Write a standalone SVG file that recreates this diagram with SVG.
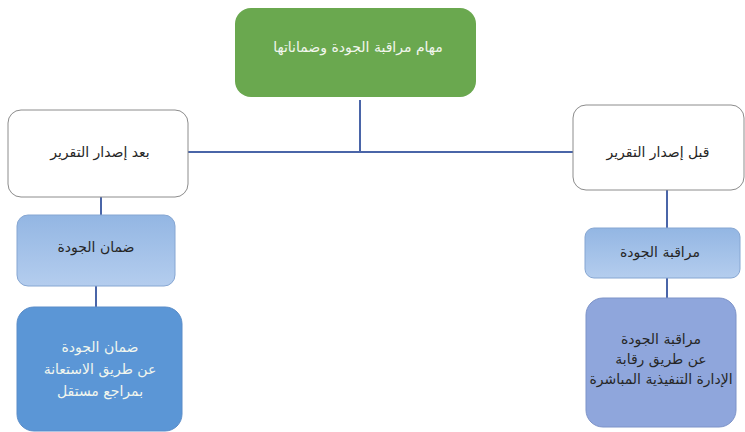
<svg xmlns="http://www.w3.org/2000/svg" width="745" height="432" viewBox="0 0 745 432">
<defs>
<linearGradient id="lb" x1="0" y1="0" x2="0" y2="1">
<stop offset="0" stop-color="#93b6e3"/>
<stop offset="1" stop-color="#b4cdee"/>
</linearGradient>
<style>
text{font-family:"DejaVu Sans","Noto Sans",sans-serif;font-size:14px;text-anchor:middle;direction:rtl}
.dark{fill:#262626}
.light{fill:#f2f6ee}
.conn line{stroke:#4a65a8;stroke-width:2}
</style>
</defs>
<rect width="745" height="432" fill="#ffffff"/>
<g id="connectors" class="conn">
<line x1="360" y1="100" x2="360" y2="152"/>
<line x1="188" y1="152" x2="573" y2="152"/>
<line x1="101" y1="197" x2="101" y2="215"/>
<line x1="96" y1="286" x2="96" y2="307"/>
<line x1="667" y1="190" x2="667" y2="228"/>
<line x1="667" y1="278" x2="667" y2="298"/>
</g>
<g id="top">
<rect x="235" y="8" width="241" height="89" rx="16" fill="#6aa84f"/>
<text class="light" x="358" y="52">مهام مراقبة الجودة وضماناتها</text>
</g>
<g id="after">
<rect x="8" y="110" width="180" height="87" rx="13" fill="#ffffff" stroke="#8c8c8c" stroke-width="1"/>
<text class="dark" x="100" y="157">بعد إصدار التقرير</text>
</g>
<g id="assurance">
<rect x="17" y="215" width="158" height="71" rx="11" fill="url(#lb)" stroke="#86a6d2" stroke-width="1"/>
<text class="dark" x="96" y="252">ضمان الجودة</text>
</g>
<g id="assurance-detail">
<rect x="17" y="307" width="165" height="124" rx="17" fill="#5b96d6" stroke="#5a8cc8" stroke-width="1"/>
<text class="light" x="100" y="352">ضمان الجودة</text>
<text class="light" x="100" y="374">عن طريق الاستعانة</text>
<text class="light" x="100" y="396">بمراجع مستقل</text>
</g>
<g id="before">
<rect x="573" y="105" width="171" height="85" rx="13" fill="#ffffff" stroke="#8c8c8c" stroke-width="1"/>
<text class="dark" x="658" y="157">قبل إصدار التقرير</text>
</g>
<g id="control">
<rect x="585" y="228" width="155" height="50" rx="9" fill="url(#lb)" stroke="#86a6d2" stroke-width="1"/>
<text class="dark" x="660" y="257">مراقبة الجودة</text>
</g>
<g id="control-detail">
<rect x="586" y="298" width="150" height="129" rx="17" fill="#8fa6dc" stroke="#7d93c8" stroke-width="1"/>
<text class="dark" x="661" y="344">مراقبة الجودة</text>
<text class="dark" x="661" y="364">عن طريق رقابة</text>
<text class="dark" x="661" y="384">الإدارة التنفيذية المباشرة</text>
</g>
</svg>
